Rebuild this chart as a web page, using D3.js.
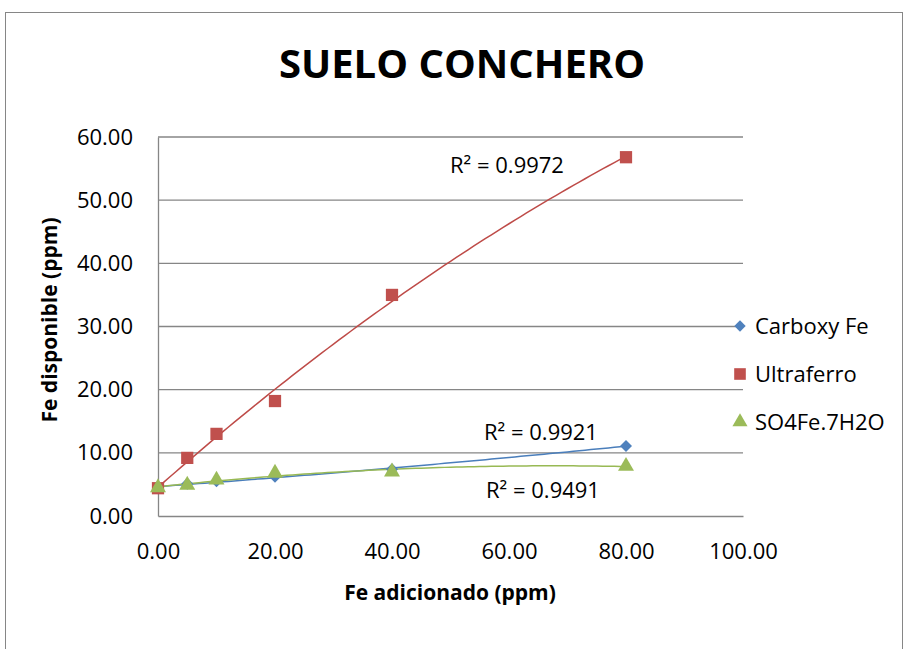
<!DOCTYPE html>
<html><head><meta charset="utf-8">
<script src="https://cdn.jsdelivr.net/npm/d3@7"></script>
<style>body{margin:0;background:#fff;} svg{display:block;} text{font-family:"Open Sans","Noto Sans",sans-serif;}</style>
</head><body>
<script>
const xValues = [0, 5, 10, 20, 40, 80];
const carboxyFe = [4.4, 5.1, 5.5, 6.2, 7.4, 11.1];
const ultraferro = [4.4, 9.2, 13.0, 18.2, 35.0, 56.8];
const so4fe = [4.5, 4.9, 5.7, 6.8, 7.0, 7.9];
const seriesNames = ["Carboxy Fe", "Ultraferro", "SO4Fe.7H2O"];
const r2Labels = ["R² = 0.9921", "R² = 0.9972", "R² = 0.9491"];
const yTicks = [0, 10, 20, 30, 40, 50, 60];
const xTicks = [0, 20, 40, 60, 80, 100];

const W = 905, H = 649;
const svg = d3.select("body").append("svg").attr("width", W).attr("height", H);
svg.append("rect").attr("x", 5.5).attr("y", 12.5).attr("width", 897).attr("height", 660)
  .attr("fill", "none").attr("stroke", "#868686").attr("stroke-width", 1);

const x = d3.scaleLinear().domain([0, 100]).range([158, 743]);
const y = d3.scaleLinear().domain([0, 60]).range([516, 137]);

// gridlines
svg.append("g").selectAll("line").data(yTicks.filter(d => d > 0)).join("line")
  .attr("x1", x(0)).attr("x2", x(100)).attr("y1", d => y(d)).attr("y2", d => y(d))
  .attr("stroke", "#868686").attr("stroke-width", 1.3);

const yAxis = svg.append("g").attr("transform", `translate(${x(0)},0)`)
  .call(d3.axisLeft(y).tickValues(yTicks).tickFormat(d3.format(".2f")).tickSize(0).tickPadding(25));
const xAxis = svg.append("g").attr("transform", `translate(0,${y(0)})`)
  .call(d3.axisBottom(x).tickValues(xTicks).tickFormat(d3.format(".2f")).tickSize(0).tickPadding(27));
[yAxis, xAxis].forEach(a => {
  a.select(".domain").attr("stroke", "#868686").attr("stroke-width", 1.3);
  a.selectAll("text").attr("font-size", 22).attr("fill", "#000")
    .style("font-family", "'Open Sans','Noto Sans',sans-serif");
});

svg.append("text").attr("x", 462).attr("y", 78).attr("text-anchor", "middle")
  .attr("font-size", 40).attr("font-weight", "bold").text("SUELO CONCHERO");
svg.append("text").attr("x", 450).attr("y", 600).attr("text-anchor", "middle")
  .attr("font-size", 21).attr("font-weight", "bold").text("Fe adicionado (ppm)");
svg.append("text").attr("transform", "translate(57,320) rotate(-90)").attr("text-anchor", "middle")
  .attr("font-size", 21).attr("font-weight", "bold").text("Fe disponible (ppm)");

// quadratic least squares trendline
function polyfit2(xs, ys) {
  let S = [0,0,0,0,0], T = [0,0,0];
  xs.forEach((xi, i) => {
    for (let k = 0; k < 5; k++) S[k] += Math.pow(xi, k);
    for (let k = 0; k < 3; k++) T[k] += Math.pow(xi, k) * ys[i];
  });
  const A = [[S[0],S[1],S[2],T[0]],[S[1],S[2],S[3],T[1]],[S[2],S[3],S[4],T[2]]];
  for (let i = 0; i < 3; i++) {
    for (let j = i + 1; j < 3; j++) {
      const f = A[j][i] / A[i][i];
      for (let k = i; k < 4; k++) A[j][k] -= f * A[i][k];
    }
  }
  const c = [0,0,0];
  for (let i = 2; i >= 0; i--) {
    let s = A[i][3];
    for (let k = i + 1; k < 3; k++) s -= A[i][k] * c[k];
    c[i] = s / A[i][i];
  }
  return xv => c[0] + c[1] * xv + c[2] * xv * xv;
}

const colors = ["#4a7ebb", "#be4b48", "#98b954"];
const markerColors = ["#4f81bd", "#c0504d", "#9bbb59"];
const allSeries = [carboxyFe, ultraferro, so4fe];
const line = d3.line().x(d => x(d[0])).y(d => y(d[1]));

allSeries.forEach((vals, si) => {
  const f = polyfit2(xValues, vals);
  const pts = d3.range(0, 80.5, 1).map(v => [v, f(v)]);
  svg.append("path").datum(pts).attr("d", line).attr("fill", "none")
    .attr("stroke", colors[si]).attr("stroke-width", 1.5);
});

const shapes = [d3.symbolSquare, d3.symbolSquare, d3.symbolTriangle];
const sizes = [72, 150, 110];
const rots = [45, 0, 0];
allSeries.forEach((vals, si) => {
  svg.append("g").selectAll("path").data(vals.map((v, i) => [xValues[i], v])).join("path")
    .attr("d", d3.symbol().type(shapes[si]).size(sizes[si]))
    .attr("transform", d => `translate(${x(d[0])},${y(d[1])}) rotate(${rots[si]})`)
    .attr("fill", markerColors[si]);
});

// R2 labels
const r2Pos = [[541, 440], [507, 173], [543, 498]];
r2Labels.forEach((t, i) => {
  svg.append("text").attr("x", r2Pos[i][0]).attr("y", r2Pos[i][1]).attr("text-anchor", "middle")
    .attr("font-size", 22).text(t);
});

// legend
seriesNames.forEach((name, i) => {
  const ly = 326 + i * 48;
  svg.append("path").attr("d", d3.symbol().type(shapes[i]).size(sizes[i] * 0.9))
    .attr("transform", `translate(740,${ly}) rotate(${rots[i]})`).attr("fill", markerColors[i]);
  svg.append("text").attr("x", 755).attr("y", ly + 8).attr("font-size", 22).text(name);
});
</script>
</body></html>
